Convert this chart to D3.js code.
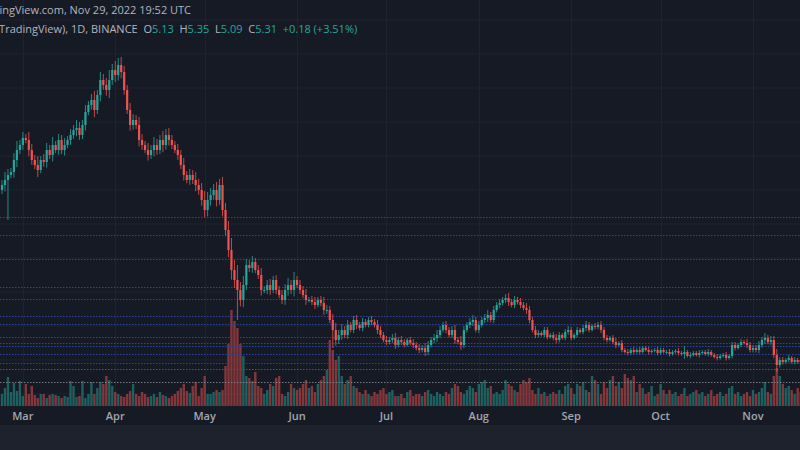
<!DOCTYPE html>
<html>
<head>
<meta charset="utf-8">
<script src="https://cdn.jsdelivr.net/npm/d3@7/dist/d3.min.js"></script>
<style>
  body { margin: 0; background: #161a25; }
  svg { display: block; font-family: "Open Sans", "DejaVu Sans", sans-serif; }
  text { white-space: pre; }
</style>
</head>
<body>
<svg id="chart" width="800" height="450"></svg>
<script>
// daily candles, first one is Feb 22 2022
var startDate = new Date(2022, 1, 22);

var closes = [
  21.5,22.0,22.5,22.8,24.0,25.0,25.5,26.2,26.0,25.0,
  24.0,23.5,23.0,24.0,23.8,25.0,24.5,25.5,25.0,26.0,
  25.0,25.5,26.0,26.5,27.0,27.2,26.5,27.5,28.8,29.5,
  30.0,29.0,30.5,32.0,31.5,31.0,32.0,33.0,32.5,33.5,
  32.8,31.0,29.0,27.5,28.0,27.5,26.0,25.5,25.0,24.5,
  25.0,25.5,25.0,26.0,25.5,26.5,26.0,25.5,25.0,24.5,
  23.5,22.5,22.0,22.5,22.0,21.5,21.0,20.0,19.0,20.0,
  20.5,21.0,20.0,
  21.5,19.0,17.0,15.0,13.0,12.0,11.0,10.0,11.5,13.5,
  13.2,13.8,13.0,12.5,11.0,11.0,11.5,11.0,12.0,11.0,
  10.5,10.0,11.0,11.5,11.0,12.0,11.5,11.0,10.5,10.0,
  10.0,9.8,9.5,10.0,9.7,9.0,9.0,8.0,7.0,6.0,
  6.5,7.0,6.5,7.5,7.0,8.0,7.5,7.2,7.8,7.5,
  8.0,7.8,7.5,7.0,6.5,6.0,5.8,6.0,6.2,5.5,
  6.0,5.8,5.5,6.0,5.7,5.5,5.2,5.0,5.2,4.8,
  5.5,6.0,6.2,6.5,7.0,7.5,7.0,6.5,7.0,6.0,
  5.8,5.5,7.0,7.5,7.8,8.0,7.0,7.5,8.0,8.2,
  8.5,8.0,9.0,9.5,9.7,10.0,10.2,9.8,9.5,10.0,
  9.8,9.5,9.2,9.0,8.0,7.0,6.5,6.7,6.5,7.0,
  6.3,6.5,6.2,6.0,6.5,6.2,6.8,7.0,6.2,6.5,
  7.0,6.8,7.2,7.5,7.0,7.4,7.3,7.5,7.0,6.2,
  6.0,6.2,5.8,5.5,5.7,5.0,4.8,4.7,5.0,4.8,
  5.0,4.8,5.2,5.0,4.8,4.9,5.0,4.7,5.0,4.8,
  4.8,4.6,4.8,4.9,4.7,4.6,4.8,4.4,4.5,4.7,
  4.5,4.7,4.8,4.6,4.8,4.5,4.3,4.2,4.4,4.5,
  4.2,4.4,5.5,5.2,5.5,5.8,5.7,5.5,5.0,5.2,
  5.0,5.5,6.0,6.2,5.8,6.0,4.5,3.5,4.0,3.8,
  4.0,4.2,3.8,4.0,3.8,4.0,3.9
];
var firstOpen = 21.0;

// wick length beyond the body, in price units
var wicks = [
  0.5,0.8,0.6,0.4,0.7,0.9,0.5,0.6,0.4,0.8,
  0.6,0.5,0.9,0.4,0.6,0.7,0.5,0.8,0.4,0.6,
  0.5,0.7,0.4,0.6,0.5,0.8,0.6,0.5,0.7,0.4,
  0.6,0.9,0.5,0.8,0.6,0.7,1.0,0.6,0.9,0.7,
  0.8,0.6,0.5,0.7,0.6,0.5,0.8,0.6,0.4,0.7,
  0.5,0.8,0.6,0.5,0.9,0.6,0.7,0.5,0.4,0.6,
  0.5,0.7,0.4,0.6,0.5,0.8,0.6,0.7,0.9,0.8,
  0.7,0.6,0.8,
  0.6,0.8,0.7,0.9,1.2,1.0,1.5,0.8,0.9,0.6,
  0.5,0.6,0.4,0.5,0.7,0.4,0.5,0.6,0.4,0.5,
  0.4,0.5,0.6,0.7,0.5,0.8,0.4,0.5,0.4,0.6,
  0.3,0.4,0.5,0.3,0.4,0.6,0.5,0.4,0.6,0.7,
  0.5,0.6,0.4,0.5,0.3,0.4,0.5,0.3,0.4,0.3,
  0.3,0.4,0.3,0.5,0.4,0.3,0.4,0.3,0.4,0.5,
  0.3,0.4,0.3,0.2,0.3,0.4,0.3,0.4,0.3,0.5,
  0.4,0.3,0.4,0.5,0.4,0.3,0.4,0.3,0.4,0.5,
  0.3,0.6,0.4,0.3,0.4,0.5,0.3,0.4,0.3,0.4,
  0.5,0.3,0.4,0.3,0.4,0.3,0.4,0.5,0.3,0.4,
  0.3,0.4,0.3,0.5,0.4,0.3,0.4,0.3,0.2,0.3,
  0.3,0.2,0.3,0.4,0.3,0.2,0.3,0.4,0.3,0.2,
  0.3,0.2,0.3,0.4,0.3,0.2,0.3,0.3,0.4,0.3,
  0.3,0.2,0.3,0.4,0.2,0.3,0.2,0.3,0.2,0.3,
  0.2,0.3,0.2,0.2,0.3,0.2,0.2,0.3,0.2,0.2,
  0.2,0.3,0.2,0.2,0.3,0.2,0.6,0.2,0.3,0.2,
  0.2,0.3,0.2,0.2,0.3,0.2,0.2,0.3,0.2,0.2,
  0.3,0.2,0.3,0.3,0.2,0.3,0.2,0.4,0.3,0.3,
  0.3,0.4,0.3,0.5,0.3,0.4,0.4,0.6,0.3,0.3,
  0.2,0.3,0.2,0.3,0.2,0.3,0.2
];
// a few long wicks: [candle index, low]
var longLows = [[2, 18.0], [79, 8.0], [111, 5.2], [260, 2.8]];

var volumes = [
  12,18,29,14,23,15,25,10,22,12,
  20,11,8,12,12,8,11,12,11,10,
  8,10,9,25,20,9,10,25,8,12,
  24,12,18,24,22,30,26,20,14,12,
  10,9,12,15,22,12,10,14,12,9,
  10,12,9,14,11,10,8,10,12,15,
  18,22,15,13,20,24,10,18,30,12,
  12,14,16,
  14,16,40,62,96,85,78,62,50,30,
  28,25,34,20,18,12,16,22,20,28,
  30,12,10,14,22,18,16,18,22,26,
  18,20,14,22,26,30,36,66,56,46,
  50,30,22,26,30,20,18,14,12,16,
  12,10,14,12,16,18,12,14,16,10,
  10,12,8,14,16,10,12,12,10,14,
  16,12,10,14,12,10,14,12,18,22,
  20,14,12,16,20,18,14,22,24,26,
  18,20,12,14,12,16,26,22,20,16,
  14,22,26,24,28,16,12,18,12,14,
  10,12,14,12,16,12,20,22,18,12,
  22,20,24,16,14,30,26,22,12,24,
  18,26,30,20,24,18,32,28,26,30,
  14,22,18,12,14,20,10,12,22,16,
  12,16,12,14,10,12,18,10,12,14,
  16,12,14,10,12,16,10,12,14,10,
  12,18,20,12,14,10,12,14,10,16,
  12,14,18,24,14,12,30,38,30,22,
  18,20,16,12,18,14,12
];

var monthTicks = [
  new Date(2022, 2, 1), new Date(2022, 3, 1), new Date(2022, 4, 1),
  new Date(2022, 5, 1), new Date(2022, 6, 1), new Date(2022, 7, 1),
  new Date(2022, 8, 1), new Date(2022, 9, 1), new Date(2022, 10, 1)
];
// drawn support / resistance levels (price)
var levels = [18.3, 16.5, 14.1, 11.3, 10.1, 8.4, 7.6, 6.3, 5.7, 5.4, 4.6, 3.7];
var tealLevel = 3.1;
var greyLevel = 1.8;

var svg = d3.select("#chart");
var W = 800, H = 450, axisTop = 406, footTop = 425;
var day = 86400000;

var data = closes.map(function (c, i) {
  var o = i == 0 ? firstOpen : closes[i - 1];
  var w = wicks[i];
  return {
    date: new Date(startDate.getTime() + i * day),
    open: o, close: c,
    high: Math.max(o, c) + w,
    low: Math.min(o, c) - w * 0.8,
    volume: volumes[i]
  };
});
longLows.forEach(function (l) { data[l[0]].low = l[1]; });

var x = d3.scaleTime()
  .domain([startDate, new Date(startDate.getTime() + 100 * day)])
  .range([2, 2 + 298]);
var y = d3.scaleLinear().domain([0, 40]).range([400, 0]);
var yVol = d3.scaleLinear().domain([0, 100]).range([axisTop, axisTop - 100]);

svg.append("rect").attr("width", W).attr("height", H).attr("fill", "#161a25");

// grid
svg.append("g").selectAll("line").data(d3.range(20, 400, 34)).join("line")
  .attr("x1", 0).attr("x2", W).attr("y1", function (d) { return d; }).attr("y2", function (d) { return d; })
  .attr("stroke", "#1f2330").attr("stroke-width", 1);
svg.append("g").selectAll("line").data(monthTicks).join("line")
  .attr("x1", function (d) { return Math.round(x(d)) + 0.5; })
  .attr("x2", function (d) { return Math.round(x(d)) + 0.5; })
  .attr("y1", 0).attr("y2", axisTop)
  .attr("stroke", "#1f2330");

// volume
var upCol = "#26a69a", dnCol = "#ef5350";
svg.append("g").selectAll("rect").data(data).join("rect")
  .attr("x", function (d) { return x(d.date) - 1.2; })
  .attr("width", 2.4)
  .attr("y", function (d) { return yVol(d.volume); })
  .attr("height", function (d) { return axisTop - yVol(d.volume); })
  .attr("fill", function (d) { return d.close >= d.open ? upCol : dnCol; })
  .attr("opacity", 0.5);

// levels
svg.append("g").selectAll("line").data(levels).join("line")
  .attr("x1", 0).attr("x2", W)
  .attr("y1", function (d) { return Math.round(y(d)) + 0.5; })
  .attr("y2", function (d) { return Math.round(y(d)) + 0.5; })
  .attr("stroke", "#2b44a8").attr("stroke-dasharray", "1.5,1.5");
svg.append("line").attr("x1", 0).attr("x2", W)
  .attr("y1", Math.round(y(tealLevel)) + 0.5).attr("y2", Math.round(y(tealLevel)) + 0.5)
  .attr("stroke", "#2a6b66").attr("stroke-dasharray", "1.5,1.5");
svg.append("line").attr("x1", 0).attr("x2", W)
  .attr("y1", Math.round(y(greyLevel)) + 0.5).attr("y2", Math.round(y(greyLevel)) + 0.5)
  .attr("stroke", "#8a8d96").attr("stroke-dasharray", "1.5,1.5").attr("opacity", 0.8);

// candles
var candles = svg.append("g").selectAll("g").data(data).join("g");
candles.append("line")
  .attr("x1", function (d) { return x(d.date); }).attr("x2", function (d) { return x(d.date); })
  .attr("y1", function (d) { return y(d.high); }).attr("y2", function (d) { return y(d.low); })
  .attr("stroke", function (d) { return d.close >= d.open ? upCol : dnCol; })
  .attr("stroke-width", 0.8);
candles.append("rect")
  .attr("x", function (d) { return x(d.date) - 1.1; })
  .attr("width", 2.2)
  .attr("y", function (d) { return y(Math.max(d.open, d.close)); })
  .attr("height", function (d) { return Math.max(1, Math.abs(y(d.open) - y(d.close))); })
  .attr("fill", function (d) { return d.close >= d.open ? upCol : dnCol; });

// time axis
svg.append("rect").attr("y", axisTop).attr("width", W).attr("height", footTop - axisTop).attr("fill", "#161a25");
svg.append("g").selectAll("text").data(monthTicks).join("text")
  .attr("x", function (d) { return x(d); }).attr("y", 420)
  .attr("text-anchor", "middle").attr("fill", "#a3a6af")
  .attr("font-size", 11).attr("font-weight", 600)
  .text(d3.timeFormat("%b"));
svg.append("rect").attr("y", footTop).attr("width", W).attr("height", H - footTop).attr("fill", "#1e222d");

// header
svg.append("text").attr("x", -24).attr("y", 14).attr("fill", "#b2b5be").attr("font-size", 11)
  .text("TradingView.com, Nov 29, 2022 19:52 UTC");
var leg = svg.append("text").attr("x", -16).attr("y", 33).attr("font-size", 11).attr("fill", "#b2b5be");
leg.append("tspan").text("by TradingView), 1D, BINANCE  O");
leg.append("tspan").attr("fill", upCol).text("5.13");
leg.append("tspan").text("  H");
leg.append("tspan").attr("fill", upCol).text("5.35");
leg.append("tspan").text("  L");
leg.append("tspan").attr("fill", upCol).text("5.09");
leg.append("tspan").text("  C");
leg.append("tspan").attr("fill", upCol).text("5.31");
leg.append("tspan").attr("fill", upCol).text("  +0.18 (+3.51%)");
</script>
</body>
</html>
